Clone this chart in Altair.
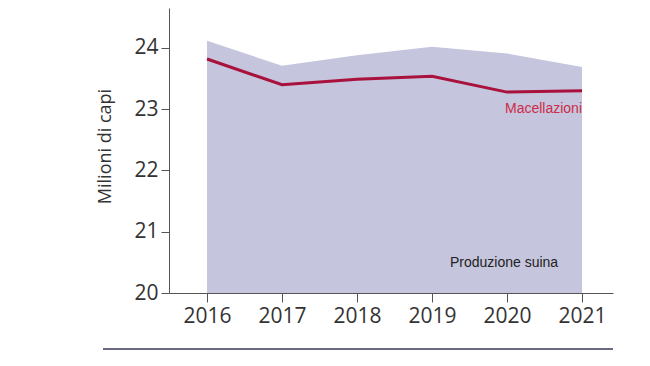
import altair as alt
import pandas as pd

years = [2016, 2017, 2018, 2019, 2020, 2021]
produzione = [24.12, 23.71, 23.88, 24.02, 23.91, 23.69]
macellazioni = [23.82, 23.40, 23.49, 23.54, 23.28, 23.30]

label_text = ["Macellazioni", "Produzione suina"]
label_x = [2021, 2019.96]
label_y = [22.94, 20.42]
label_color = ["#cc2c48", "#222222"]

df = pd.DataFrame({"anno": years, "prod": produzione, "mac": macellazioni})
lab = pd.DataFrame({"t": label_text, "x": label_x, "y": label_y, "c": label_color})

FONT = "Open Sans"
xs = alt.Scale(domain=[2015.493, 2021.413], nice=False, zero=False)
ys = alt.Scale(domain=[20, 24.653], nice=False, zero=False)

area = alt.Chart(df).mark_area(color="#c5c5dd", opacity=1).encode(
    x=alt.X("anno:Q", scale=xs, axis=alt.Axis(
        values=years, format="d", title=None, tickSize=9, tickColor="#555",
        domainColor="#555", labelFontSize=21, labelFont=FONT, labelColor="#333",
        labelPadding=3, grid=False)),
    y=alt.Y("prod:Q", scale=ys, axis=alt.Axis(
        values=[20, 21, 22, 23, 24], format="d", title="Milioni di capi", tickSize=8,
        tickColor="#555", domainColor="#555", labelFontSize=21, labelFont=FONT,
        labelColor="#333", labelPadding=3, grid=False, titleFont=FONT,
        titleFontSize=18, titleFontWeight="normal", titleColor="#333",
        titleX=-64, titleY=138, titleAngle=-90, titleAlign="center",
        titleBaseline="middle")),
    y2=alt.datum(20),
)

line = alt.Chart(df).mark_line(color="#a8123c", strokeWidth=3).encode(
    x=alt.X("anno:Q", scale=xs),
    y=alt.Y("mac:Q", scale=ys),
)

text1 = alt.Chart(lab.iloc[[0]]).mark_text(
    align="right", baseline="alphabetic", font="Liberation Sans", fontSize=14,
    color=label_color[0]).encode(
    x=alt.X("x:Q", scale=xs), y=alt.Y("y:Q", scale=ys), text="t:N")

text2 = alt.Chart(lab.iloc[[1]]).mark_text(
    align="center", baseline="alphabetic", font="Liberation Sans", fontSize=14,
    color=label_color[1]).encode(
    x=alt.X("x:Q", scale=xs), y=alt.Y("y:Q", scale=ys), text="t:N")

rule = alt.Chart(df.iloc[[0]]).mark_rule(color="#6a6a82", strokeWidth=2).encode(
    x=alt.value(-66), x2=alt.value(444), y=alt.value(341))

chart = alt.layer(area, line, text1, text2, rule).properties(
    width=444, height=285,
    autosize=alt.AutoSizeParams(type="none"),
    padding={"left": 161, "top": 0, "right": 20, "bottom": 60},
    background="white",
).configure_view(stroke=None, strokeWidth=0)

chart.save("out.html", embed_options={"renderer": "svg", "actions": False})
